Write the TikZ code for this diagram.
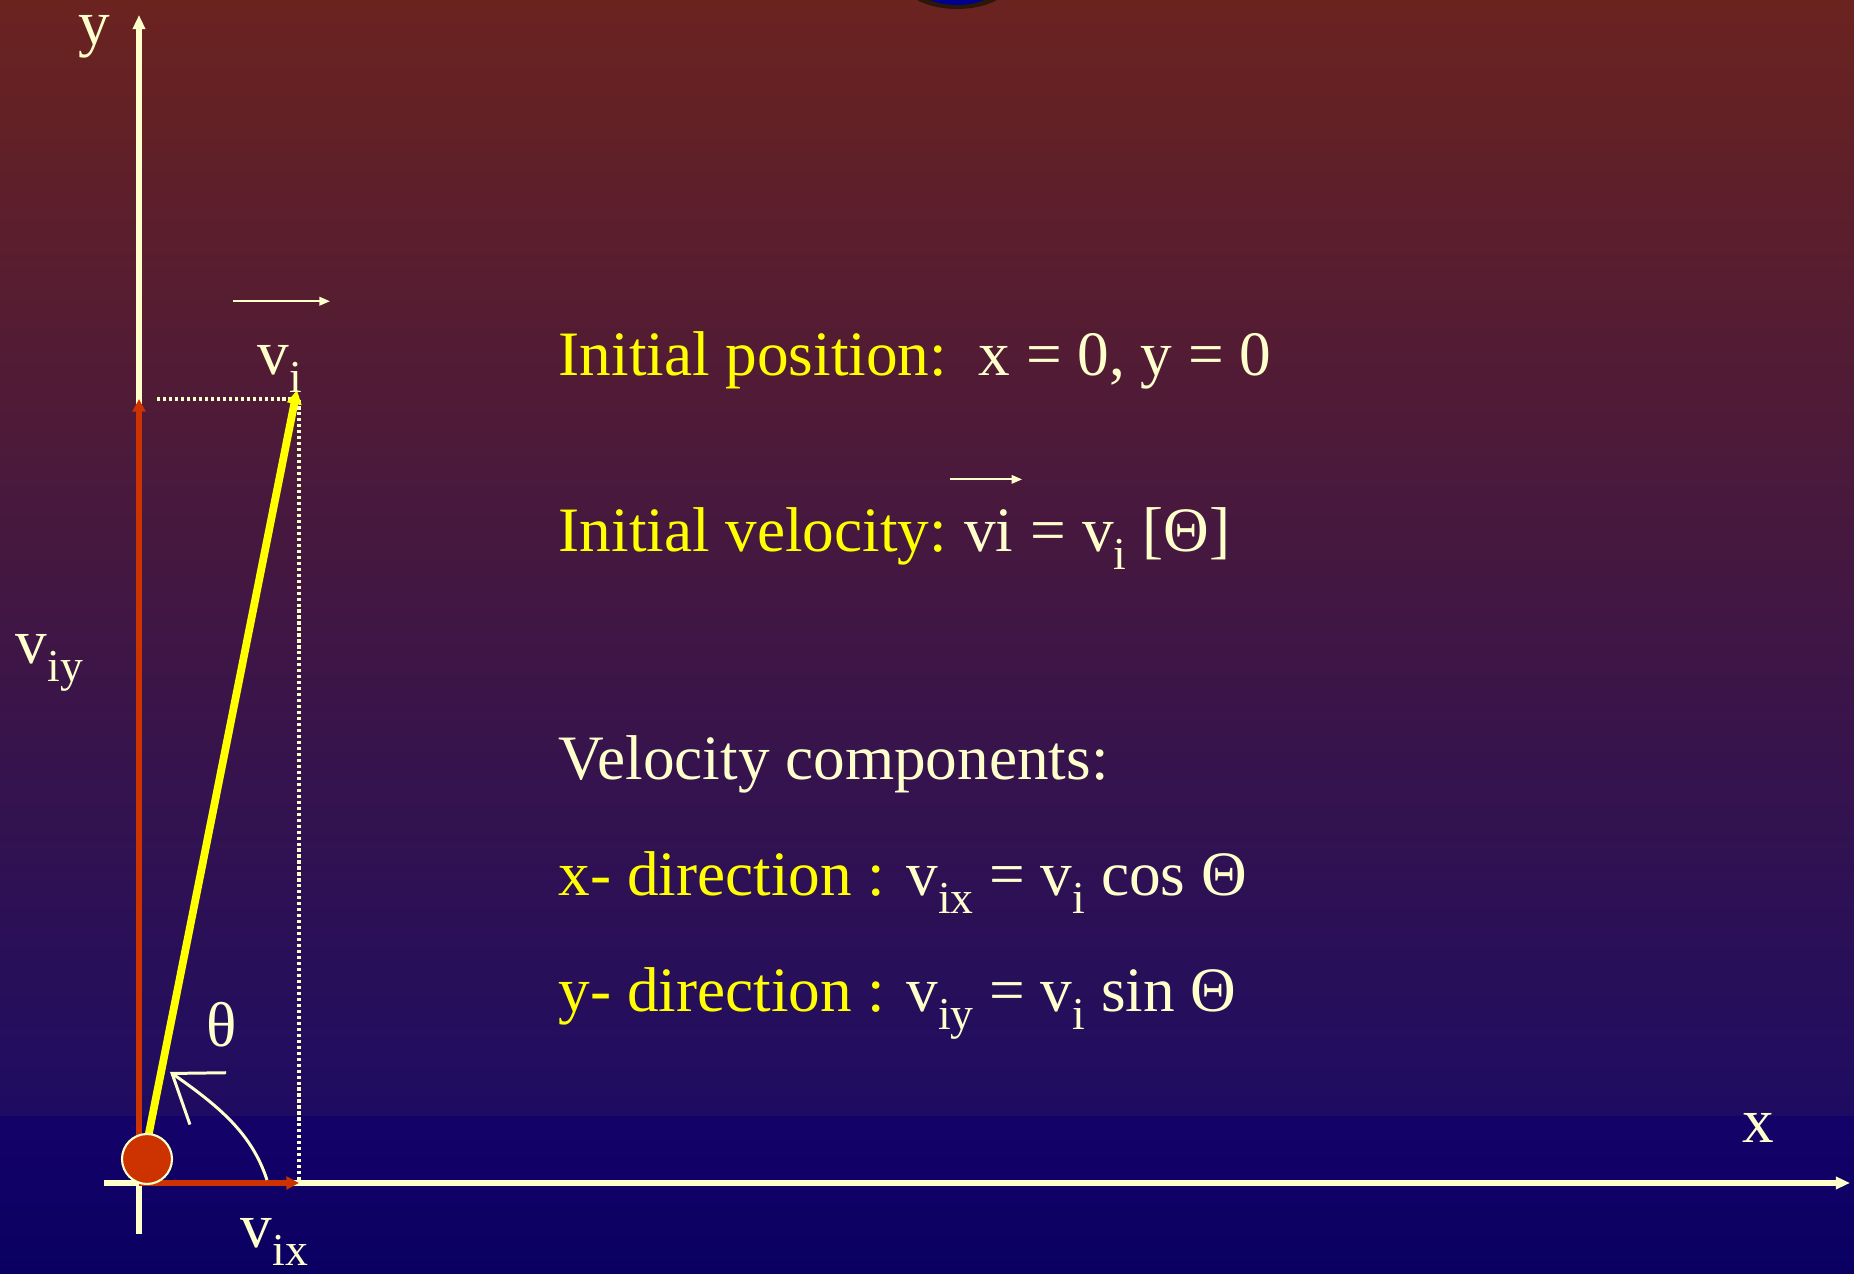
\documentclass[tikz,border=0pt]{standalone}
\usepackage{fontspec}
\setmainfont{Liberation Serif}
\usetikzlibrary{positioning, arrows.meta}

\definecolor{bgtop}{RGB}{107,35,31}
\definecolor{bgmid}{RGB}{74,26,72}
\definecolor{bgband}{RGB}{30,12,98}
\definecolor{bglow}{RGB}{20,2,104}
\definecolor{bgbot}{RGB}{10,0,98}
\definecolor{cream}{RGB}{255,255,204}
\definecolor{ballred}{RGB}{204,51,0}
\definecolor{textyellow}{RGB}{255,255,0}
\definecolor{rimdark}{RGB}{45,22,10}
\definecolor{topblue}{RGB}{0,0,140}

\newcommand{\lowsub}[1]{\raisebox{-0.27em}{\fontsize{13}{13}\selectfont #1}}

\begin{document}
\begin{tikzpicture}[
    axis/.style={cream, line width=1.8pt, -{Triangle[length=4pt,width=3.4pt]}},
    comp/.style={ballred, line width=1.8pt, -{Triangle[length=3.6pt,width=3.6pt]}},
    vec/.style={textyellow, line width=2.2pt, -{Triangle[length=4pt,width=4pt]}},
    guide/.style={cream, line width=0.9pt, dash pattern=on 0.9pt off 0.8pt},
    overarrow/.style={cream, line width=0.6pt, -{Triangle[length=3pt,width=2.4pt]}},
    anglearc/.style={cream, line width=0.85pt, -{Straight Barb[length=12.5pt,width=18pt]}},
    ball/.style={circle, fill=ballred, draw=cream, line width=0.6pt,
        minimum size=0.5cm, inner sep=0pt},
    lbl/.style={text=cream, font=\fontsize{18}{22}\selectfont, inner sep=0pt},
    txtline/.style={text=textyellow, font=\fontsize{18}{22}\selectfont,
        inner sep=0pt, anchor=base west}
]

% background
\begin{scope}
\clip (0,0) rectangle (18.54,12.74);
\shade[top color=bgtop, middle color=bgmid, bottom color=bgband] (0,1.57) rectangle (18.54,12.74);
\shade[top color=bglow, bottom color=bgbot] (0,0) rectangle (18.54,1.57);
\fill[rimdark] (9.57,12.95) ellipse [x radius=0.56, y radius=0.30];
\fill[topblue] (9.57,12.95) ellipse [x radius=0.46, y radius=0.26];
\end{scope}
\useasboundingbox (0,0) rectangle (18.54,12.74);

\coordinate (O) at (1.39,0.91);
\coordinate (ytip) at (1.39,12.59);
\coordinate (ybot) at (1.39,0.40);
\coordinate (xleft) at (1.04,0.91);
\coordinate (xtip) at (18.50,0.91);
\coordinate (corner) at (2.99,8.75);
\coordinate (guideleft) at (1.57,8.75);
\coordinate (vxtip) at (2.99,0.91);
\coordinate (vytip) at (1.39,8.75);
\coordinate (vitip) at (2.97,8.84);
\coordinate (arcstart) at (2.67,0.94);
\coordinate (arcend) at (1.70,2.02);

% axes
\draw[cream, line width=1.8pt] (ybot) -- (O);
\draw[axis] (O) -- (ytip);
\draw[axis] (xleft) -- (xtip);

% components
\draw[guide] (guideleft) -- (corner) -- (vxtip);
\draw[comp] (O) -- (vytip);
\draw[comp] (O) -- (vxtip);
\draw[vec] (O) -- (vitip);
\node[ball] (ball) at (1.47,1.15) {};

\draw[anglearc] (arcstart) .. controls (2.52,1.40) and (2.20,1.67) .. (arcend);

% labels
\node[lbl, anchor=base] (ylabel) at (0.94,12.29) {y};
\node[lbl, anchor=base] (xlabel) at (17.58,1.31) {x};
\node[lbl, anchor=base west] (viy) at (0.15,6.10) {v\lowsub{iy}};
\node[lbl, anchor=base west] (vix) at (2.40,0.26) {v\lowsub{ix}};
\node[lbl, anchor=base west] (vi) at (2.57,8.99) {v\lowsub{i}};
\node[lbl] (theta) at (2.22,2.49) {θ};
\draw[overarrow] ([xshift=-0.24cm, yshift=0.44cm]vi.north west) -- ([xshift=0.73cm, yshift=0.44cm]vi.north west);

% text
\node[txtline] (pos) at (5.58,8.98) {Initial position:\ \ {\color{cream}x = 0, y = 0}};
\node[txtline] (vel) at (5.58,7.22) {Initial velocity:};
\node[txtline, text=cream, base right=4.5pt of vel] (velvec) {vi};
\node[txtline, text=cream, base right=4.5pt of velvec] (veleq) {= v\lowsub{i} [Θ]};
\draw[overarrow] ([xshift=-0.13cm, yshift=0.30cm]velvec.north west) -- ([xshift=0.08cm, yshift=0.30cm]velvec.north east);
\node[txtline, text=cream] (comps) at (5.58,4.94) {Velocity components:};
\node[txtline] (xdir) at (5.58,3.78) {x- direction : {\color{cream}v\lowsub{ix} = v\lowsub{i} cos Θ}};
\node[txtline] (ydir) at (5.58,2.62) {y- direction : {\color{cream}v\lowsub{iy} = v\lowsub{i} sin Θ}};

\end{tikzpicture}
\end{document}
